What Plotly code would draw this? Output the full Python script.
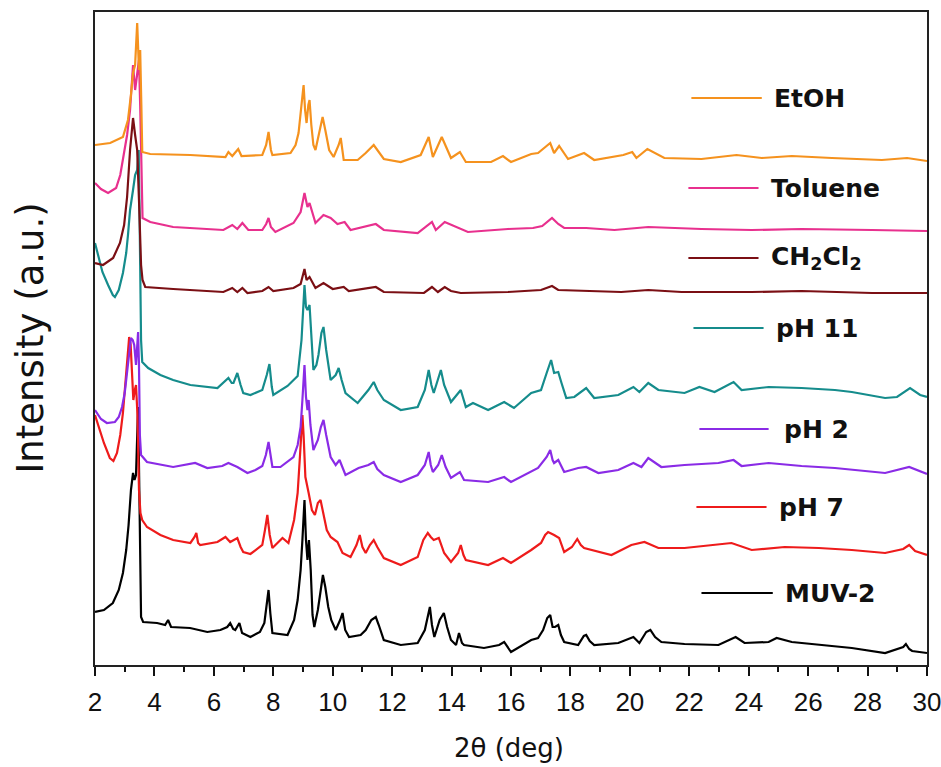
import plotly.graph_objects as go

# ---- data: (2theta [deg], stacked intensity [a.u.]) ----
muv2 = [(2.00, 53), (2.30, 55), (2.60, 62), (2.80, 75), (2.94, 92), (3.05, 115), (3.13, 140),
        (3.21, 175), (3.28, 192), (3.33, 185), (3.38, 190), (3.42, 225), (3.45, 258), (3.48, 200),
        (3.51, 110), (3.55, 48), (3.62, 43), (4.09, 42), (4.36, 40), (4.46, 45), (4.56, 38),
        (5.20, 37), (5.78, 33), (6.22, 35), (6.45, 38), (6.55, 42), (6.65, 36), (6.72, 35),
        (6.86, 42), (6.95, 32), (7.23, 28), (7.55, 33), (7.70, 42), (7.78, 58), (7.84, 75),
        (7.90, 52), (7.97, 32), (8.48, 30), (8.70, 45), (8.82, 65), (8.92, 95), (8.98, 125),
        (9.05, 165), (9.10, 125), (9.15, 105), (9.20, 125), (9.26, 95), (9.32, 50), (9.38, 38),
        (9.50, 55), (9.60, 78), (9.67, 90), (9.75, 78), (9.85, 58), (9.95, 45), (10.10, 35),
        (10.25, 45), (10.33, 52), (10.42, 35), (10.55, 28), (10.94, 30), (11.11, 35), (11.30, 45),
        (11.45, 48), (11.55, 40), (11.72, 25), (12.29, 20), (12.86, 22), (13.10, 35), (13.20, 48),
        (13.27, 58), (13.34, 40), (13.42, 28), (13.60, 45), (13.74, 52), (13.85, 38), (13.98, 25),
        (14.15, 20), (14.25, 32), (14.35, 22), (14.42, 20), (15.09, 17), (15.60, 20), (15.77, 23),
        (16.00, 13), (16.68, 25), (16.91, 27), (17.08, 35), (17.22, 47), (17.32, 50), (17.40, 38),
        (17.48, 38), (17.59, 40), (17.68, 30), (17.79, 23), (18.26, 20), (18.45, 29), (18.53, 30),
        (18.65, 24), (18.80, 20), (19.61, 22), (20.12, 28), (20.32, 22), (20.55, 33), (20.69, 35),
        (20.85, 28), (21.06, 23), (21.84, 21), (22.98, 20), (23.56, 28), (23.86, 22), (24.67, 23),
        (24.94, 27), (25.45, 23), (26.36, 20), (27.47, 17), (28.59, 12), (29.20, 18), (29.29, 21),
        (29.40, 16), (29.50, 14), (30.00, 12)]

ph7 = [(2.00, 250), (2.15, 235), (2.30, 222), (2.50, 207), (2.62, 204), (2.74, 212), (2.85, 230),
       (2.94, 252), (3.02, 280), (3.08, 302), (3.15, 328), (3.20, 320), (3.25, 285), (3.29, 265),
       (3.34, 275), (3.38, 280), (3.43, 250), (3.48, 175), (3.53, 152), (3.59, 145), (3.75, 138),
       (4.20, 130), (4.63, 125), (5.21, 122), (5.35, 128), (5.41, 132), (5.47, 122), (5.54, 120),
       (6.12, 123), (6.39, 128), (6.55, 123), (6.79, 127), (6.90, 118), (6.99, 113), (7.23, 111),
       (7.63, 120), (7.72, 135), (7.80, 150), (7.88, 130), (7.97, 117), (8.31, 127), (8.51, 122),
       (8.70, 145), (8.82, 172), (8.90, 210), (8.95, 240), (8.98, 250), (9.02, 230), (9.08, 188),
       (9.19, 172), (9.30, 155), (9.40, 150), (9.50, 162), (9.59, 165), (9.70, 150), (9.80, 135),
       (9.93, 128), (10.16, 123), (10.33, 112), (10.60, 108), (10.80, 120), (10.91, 130),
       (11.00, 118), (11.11, 112), (11.25, 120), (11.38, 125), (11.50, 118), (11.72, 107),
       (12.29, 100), (12.86, 108), (13.05, 125), (13.20, 132), (13.30, 128), (13.40, 125),
       (13.57, 127), (13.75, 112), (13.98, 103), (14.22, 112), (14.31, 120), (14.40, 110),
       (14.48, 105), (15.23, 100), (15.73, 107), (16.00, 102), (16.68, 115), (17.01, 122),
       (17.15, 130), (17.25, 133), (17.45, 130), (17.62, 127), (17.79, 113), (18.05, 118),
       (18.23, 126), (18.35, 120), (18.46, 117), (19.38, 110), (20.05, 120), (20.49, 123),
       (20.96, 117), (21.84, 117), (23.42, 122), (24.10, 115), (25.21, 118), (26.36, 117),
       (27.47, 115), (28.59, 112), (29.20, 116), (29.40, 120), (29.60, 114), (30.00, 110)]

ph2 = [(2.00, 255), (2.20, 246), (2.40, 242), (2.67, 243), (2.80, 248), (2.91, 258), (3.00, 272),
       (3.08, 292), (3.15, 315), (3.21, 327), (3.27, 325), (3.32, 320), (3.38, 300), (3.42, 320),
       (3.45, 333), (3.48, 300), (3.51, 230), (3.55, 210), (3.75, 203), (4.63, 198), (5.37, 202),
       (5.78, 197), (6.28, 199), (6.49, 202), (6.79, 198), (7.13, 192), (7.40, 195), (7.63, 199),
       (7.75, 210), (7.84, 223), (7.92, 205), (7.97, 198), (8.24, 198), (8.68, 208), (8.82, 220),
       (8.92, 238), (8.98, 265), (9.05, 300), (9.10, 268), (9.15, 255), (9.19, 265), (9.25, 240),
       (9.35, 215), (9.50, 225), (9.60, 238), (9.69, 245), (9.78, 230), (9.93, 208), (10.10, 200),
       (10.23, 205), (10.43, 190), (10.87, 197), (11.20, 200), (11.38, 203), (11.50, 196),
       (11.72, 190), (12.29, 183), (12.86, 190), (13.10, 200), (13.23, 213), (13.30, 200),
       (13.37, 193), (13.55, 200), (13.67, 210), (13.80, 198), (13.98, 187), (14.28, 193),
       (14.42, 185), (15.23, 183), (15.77, 188), (16.00, 183), (16.68, 193), (16.91, 197),
       (17.20, 208), (17.32, 215), (17.40, 205), (17.45, 202), (17.59, 205), (17.79, 193),
       (18.26, 197), (18.53, 198), (18.94, 192), (19.61, 195), (20.12, 202), (20.39, 198),
       (20.62, 207), (21.06, 198), (21.84, 200), (22.98, 202), (23.49, 205), (23.76, 199),
       (24.67, 202), (25.78, 199), (26.90, 197), (28.59, 192), (29.40, 198), (30.00, 191)]

ph11 = [(2.00, 422), (2.10, 410), (2.25, 393), (2.44, 380), (2.60, 370), (2.67, 368), (2.80, 375),
        (2.94, 392), (3.05, 412), (3.11, 430), (3.18, 455), (3.28, 475), (3.35, 490), (3.42, 495),
        (3.47, 515), (3.50, 450), (3.52, 365), (3.55, 325), (3.59, 303), (3.79, 297), (4.20, 290),
        (4.63, 285), (5.21, 280), (6.12, 277), (6.49, 287), (6.60, 282), (6.66, 282), (6.79, 292),
        (6.90, 280), (6.99, 272), (7.23, 270), (7.63, 275), (7.78, 290), (7.87, 301), (7.95, 278),
        (8.00, 270), (8.48, 279), (8.82, 289), (8.95, 325), (9.00, 350), (9.05, 380), (9.10, 358),
        (9.15, 355), (9.22, 360), (9.28, 330), (9.35, 295), (9.45, 300), (9.52, 310), (9.62, 332),
        (9.69, 338), (9.78, 315), (9.93, 285), (10.10, 290), (10.20, 297), (10.30, 285),
        (10.43, 272), (10.84, 262), (11.20, 275), (11.38, 283), (11.50, 275), (11.72, 265),
        (12.29, 255), (12.86, 258), (13.10, 275), (13.23, 295), (13.32, 280), (13.40, 272),
        (13.55, 285), (13.64, 295), (13.75, 280), (13.98, 263), (14.31, 275), (14.48, 258),
        (14.72, 262), (15.23, 255), (15.77, 263), (16.10, 257), (16.68, 272), (17.01, 275),
        (17.20, 292), (17.35, 305), (17.45, 292), (17.59, 293), (17.70, 282), (17.86, 267),
        (18.13, 268), (18.53, 277), (18.80, 267), (19.61, 270), (20.12, 278), (20.32, 273),
        (20.62, 282), (20.96, 275), (21.84, 272), (22.34, 278), (22.85, 273), (23.49, 283),
        (23.76, 275), (24.67, 278), (25.78, 277), (26.90, 275), (27.47, 273), (28.59, 267),
        (28.99, 268), (29.43, 277), (29.77, 270), (30.00, 268)]

ch2cl2 = [(2.00, 402), (2.27, 400), (2.61, 407), (2.84, 422), (2.98, 440), (3.08, 468), (3.18, 515),
          (3.28, 547), (3.35, 530), (3.42, 515), (3.48, 465), (3.52, 420), (3.55, 400), (3.60, 385),
          (3.69, 378), (4.63, 376), (6.32, 373), (6.62, 377), (6.79, 373), (6.96, 377), (7.13, 372),
          (7.63, 374), (7.84, 378), (8.00, 374), (8.68, 377), (8.92, 381), (9.05, 396), (9.12, 385),
          (9.22, 388), (9.42, 377), (9.69, 382), (10.00, 376), (10.37, 378), (10.54, 374),
          (11.18, 377), (11.45, 378), (11.72, 373), (13.07, 372), (13.34, 378), (13.54, 373),
          (13.77, 378), (13.98, 374), (14.31, 372), (15.90, 373), (17.01, 375), (17.38, 379),
          (17.59, 375), (19.71, 373), (20.62, 375), (21.74, 373), (24.10, 373), (25.78, 374),
          (28.15, 372), (30.00, 372)]

toluene = [(2.00, 482), (2.20, 476), (2.44, 472), (2.71, 477), (2.85, 490), (2.94, 505), (3.08, 530),
           (3.18, 555), (3.28, 600), (3.35, 575), (3.42, 590), (3.48, 605), (3.52, 560), (3.55, 515),
           (3.60, 447), (3.86, 443), (4.63, 438), (6.32, 435), (6.62, 440), (6.79, 436), (6.96, 442),
           (7.16, 435), (7.63, 435), (7.76, 441), (7.84, 447), (7.92, 438), (8.07, 433), (8.68, 442),
           (8.92, 453), (9.05, 472), (9.15, 458), (9.22, 462), (9.42, 442), (9.69, 450), (9.93, 447),
           (10.16, 441), (10.40, 443), (10.60, 435), (11.45, 441), (11.72, 435), (12.86, 432),
           (13.34, 443), (13.47, 435), (13.77, 443), (14.21, 437), (14.55, 433), (15.90, 436),
           (16.74, 437), (17.05, 439), (17.38, 447), (17.59, 441), (17.79, 437), (18.53, 437),
           (19.48, 435), (20.62, 438), (22.41, 436), (24.10, 435), (25.78, 436), (28.15, 435),
           (30.00, 434)]

etoh = [(2.00, 520), (2.51, 522), (2.94, 528), (3.11, 545), (3.21, 570), (3.28, 592), (3.35, 600),
        (3.42, 642), (3.48, 595), (3.52, 615), (3.56, 560), (3.59, 513), (3.86, 511), (5.21, 510),
        (6.39, 508), (6.49, 513), (6.62, 509), (6.82, 516), (6.93, 509), (7.63, 510), (7.76, 520),
        (7.84, 533), (7.92, 515), (7.97, 510), (8.58, 512), (8.75, 520), (8.85, 532), (8.95, 560),
        (9.02, 580), (9.07, 555), (9.12, 542), (9.18, 560), (9.22, 565), (9.28, 540), (9.35, 520),
        (9.42, 515), (9.55, 532), (9.66, 548), (9.75, 535), (9.88, 515), (10.03, 508), (10.20, 520),
        (10.27, 527), (10.33, 515), (10.37, 505), (10.84, 505), (11.11, 512), (11.38, 520),
        (11.72, 506), (12.29, 503), (12.96, 510), (13.23, 528), (13.37, 508), (13.67, 528),
        (13.98, 507), (14.28, 513), (14.48, 503), (15.33, 503), (15.73, 509), (16.00, 503),
        (16.68, 511), (16.91, 512), (17.32, 522), (17.45, 512), (17.62, 519), (17.92, 506),
        (18.46, 512), (18.80, 505), (19.78, 510), (20.08, 513), (20.22, 507), (20.59, 516),
        (21.16, 507), (22.41, 506), (23.59, 510), (24.44, 507), (25.45, 509), (26.80, 507),
        (28.48, 505), (29.33, 507), (30.00, 504)]

series_names = ["MUV-2", "pH 7", "pH 2", "pH 11", "CH<sub>2</sub>Cl<sub>2</sub>", "Toluene", "EtOH"]
series_data = [muv2, ph7, ph2, ph11, ch2cl2, toluene, etoh]
series_colors = ["#000000", "#EE1B1B", "#8A2BE6", "#158C8C", "#7B0F14", "#E8308E", "#F5921E"]

# legend label positions (2theta of line start/end, text start; intensity level)
legend_x0 = [22.41, 22.24, 22.34, 22.14, 21.97, 21.97, 22.07]
legend_x1 = [24.81, 24.60, 24.67, 24.50, 24.33, 24.33, 24.44]
legend_tx = [25.14, 24.94, 25.11, 24.84, 24.67, 24.67, 24.77]
legend_y = [72, 158, 236, 337, 407, 477, 567]

x_ticks = list(range(2, 31, 2))

fig = go.Figure()
for name, pts, col in zip(series_names, series_data, series_colors):
    fig.add_trace(go.Scatter(
        x=[p[0] for p in pts], y=[p[1] for p in pts], mode="lines", name=name,
        line=dict(color=col, width=2.2), showlegend=False, hoverinfo="x+y+name"))

for name, col, x0, x1, tx, ly in zip(series_names, series_colors, legend_x0, legend_x1, legend_tx, legend_y):
    fig.add_shape(type="line", xref="x", yref="y", x0=x0, x1=x1, y0=ly, y1=ly,
                  line=dict(color=col, width=2))
    fig.add_annotation(x=tx, y=ly, xref="x", yref="y", text="<b>%s</b>" % name, showarrow=False,
                       xanchor="left", yanchor="middle",
                       font=dict(family="DejaVu Sans", size=25, color="#111111"))

fig.add_annotation(x=0.4976, y=-0.127, xref="paper", yref="paper", text="2θ (deg)", showarrow=False,
                   xanchor="center", yanchor="middle",
                   font=dict(family="DejaVu Sans", size=26, color="#111111"))
fig.add_annotation(x=-0.078, y=0.5, xref="paper", yref="paper", text="Intensity (a.u.)", showarrow=False,
                   textangle=-90, xanchor="center", yanchor="middle",
                   font=dict(family="DejaVu Sans", size=37, color="#111111"))

fig.update_layout(
    width=941, height=767, autosize=False,
    margin=dict(l=95, r=14, t=12, b=102),
    paper_bgcolor="white", plot_bgcolor="white",
    xaxis=dict(range=[2, 30], tickvals=x_ticks, ticktext=[str(v) for v in x_ticks],
               ticks="outside", ticklen=9, tickwidth=1.5, tickcolor="#111111",
               minor=dict(dtick=1, ticks="outside", ticklen=5, tickwidth=1.5, tickcolor="#111111"),
               showline=True, linewidth=1.6, linecolor="#222222", mirror=True,
               showgrid=False, zeroline=False, ticklabeloverflow="allow", automargin=False,
               ticklabelstandoff=4,
               tickfont=dict(family="Liberation Sans Narrow, Liberation Sans", size=26, color="#111111")),
    yaxis=dict(range=[0, 653], showticklabels=False, ticks="", showline=True, linewidth=1.6,
               linecolor="#222222", mirror=True, showgrid=False, zeroline=False, automargin=False),
)

post = ("document.documentElement.style.overflow='hidden';"
        "document.body.style.overflow='hidden';"
        "document.body.style.margin='0px';")

fig.write_html("out.html", config={"displayModeBar": False, "responsive": False}, post_script=post)
